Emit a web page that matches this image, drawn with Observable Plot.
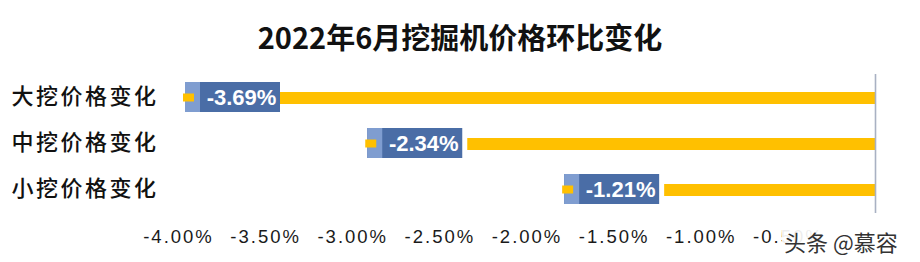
<!DOCTYPE html>
<html>
<head>
<meta charset="utf-8">
<script src="https://cdn.jsdelivr.net/npm/d3@7"></script>
<script src="https://cdn.jsdelivr.net/npm/@observablehq/plot@0.6"></script>
<style>
  html, body { margin: 0; padding: 0; background: #fff; }
  #wrap { position: relative; width: 920px; height: 262px; overflow: hidden; }
  #title { height: 62px; box-sizing: border-box; padding-top: 10px; line-height: 52px; text-align: center;
           font-family: "Noto Sans CJK SC", sans-serif; font-weight: 700; font-size: 29px; color: #111; }
  g[aria-label="y-axis tick label"] text { letter-spacing: 2.5px; }
  g[aria-label="x-axis tick label"] text { letter-spacing: 2px; }
  #wm { position: absolute; left: 782px; top: 226px; padding: 0 2px; background: rgba(255,255,255,0.92);
        font-family: "Noto Sans CJK SC", sans-serif; font-size: 22px; line-height: 30px; color: #333; }
</style>
</head>
<body>
<div id="wrap">
  <div id="title">2022年6月挖掘机价格环比变化</div>
  <div id="chart"></div>
  <div id="wm">头条 @慕容</div>
</div>
<script>
// ---- data ----
const categories = ["大挖价格变化", "中挖价格变化", "小挖价格变化"];
const values = [-3.69, -2.34, -1.21];
const tickValues = [-4, -3.5, -3, -2.5, -2, -1.5, -1, -0.5];

const data = categories.map((c, i) => ({cat: c, value: values[i]}));
const fmt = v => v.toFixed(2) + "%";

const xDomain = [-4, 0];
const xRange = [178, 875];
const xs = Plot.scale({x: {domain: xDomain, range: xRange}});

// label box geometry (pixels relative to bar end)
const BOX_W = 95, STRIP_W = 15;
const boxes = data.map(d => {
  const end = xs.apply(d.value);
  const left = Math.max(end - 100, xs.apply(xDomain[0]) + 7);
  return {
    cat: d.cat, value: d.value,
    bx1: xs.invert(left), bx2: xs.invert(left + BOX_W),
    sx2: xs.invert(left + STRIP_W),
    kx1: xs.invert(left - 2), kx2: xs.invert(left + 9),
    tx: xs.invert(left + 56)
  };
});

const yOpts = {domain: categories, range: [6.3, 158.1], paddingInner: 0.75, paddingOuter: 0.5, align: 0.5};

const chart = Plot.plot({
  width: 920,
  height: 200,
  marginLeft: 178,
  marginRight: 45,
  marginTop: 12,
  marginBottom: 40,
  style: {fontFamily: "'Liberation Sans', 'Noto Sans CJK SC', sans-serif", background: "#fff", color: "#222"},
  x: {domain: xDomain, range: xRange, label: null},
  y: {...yOpts, label: null},
  marks: [
    Plot.barX(data, {x: "value", y: "cat", fill: "#FFC000"}),
    Plot.ruleX([0], {stroke: "#a9b1c3", strokeWidth: 1.6, insetBottom: 9}),
    Plot.barX(boxes, {x1: "bx1", x2: "bx2", y: "cat", fill: "#4a6da6", insetTop: -10, insetBottom: -8}),
    Plot.barX(boxes, {x1: "bx1", x2: "sx2", y: "cat", fill: "#7f9dd0", insetTop: -10, insetBottom: -8}),
    Plot.barX(boxes, {x1: "kx1", x2: "kx2", y: "cat", fill: "#FFC000", insetTop: 1.5, insetBottom: 2.5}),
    Plot.text(boxes, {x: "tx", y: "cat", text: d => fmt(d.value), fill: "#fff", fontWeight: "bold",
                      fontSize: 22, dy: -1, textAnchor: "middle"}),
    Plot.axisY({tickSize: 0, tickPadding: 20, fontSize: 22, dy: -2, fill: "#111", label: null,
                fontWeight: 500, fontFamily: "'Noto Sans CJK SC', sans-serif"}),
    Plot.axisX({ticks: tickValues, tickFormat: fmt, tickSize: 0, tickPadding: 7, fontSize: 18.5, fill: "#1a1a1a", label: null})
  ]
});
document.getElementById("chart").appendChild(chart);
</script>
</body>
</html>
